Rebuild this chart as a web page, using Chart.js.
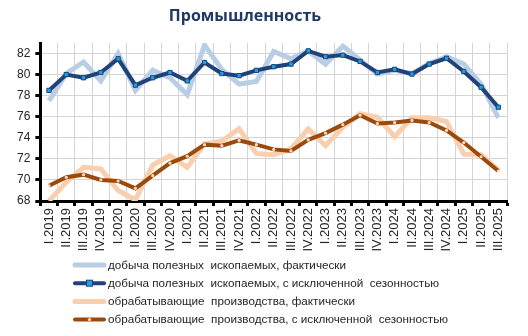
<!DOCTYPE html>
<html lang="ru">
<head>
<meta charset="utf-8">
<title>Промышленность</title>
<script src="https://cdn.jsdelivr.net/npm/chart.js@4/dist/chart.umd.min.js"></script>
<style>
  html, body { margin: 0; padding: 0; background: #fff; }
  #wrap { position: relative; width: 528px; height: 336px; }
</style>
</head>
<body>
<div id="wrap"><canvas id="industryChart" width="528" height="336"></canvas></div>
<script>
const quarters = [
  'I.2019', 'II.2019', 'III.2019', 'IV.2019',
  'I.2020', 'II.2020', 'III.2020', 'IV.2020',
  'I.2021', 'II.2021', 'III.2021', 'IV.2021',
  'I.2022', 'II.2022', 'III.2022', 'IV.2022',
  'I.2023', 'II.2023', 'III.2023', 'IV.2023',
  'I.2024', 'II.2024', 'III.2024', 'IV.2024',
  'I.2025', 'II.2025', 'III.2025',
];

const miningActual = [
  77.5, 80.1, 81.2, 79.4, 82.0, 78.5, 80.4, 79.7, 78.1, 82.8, 80.5, 79.1, 79.35,
  82.2, 81.5, 82.25, 81.0, 82.7, 81.4, 80.05, 80.4, 80.1, 81.05, 81.7, 81.0, 79.1, 75.9,
];
const miningSA = [
  78.5, 80.0, 79.7, 80.2, 81.5, 79.0, 79.7, 80.2, 79.4, 81.15, 80.1, 79.9, 80.4,
  80.75, 81.0, 82.25, 81.7, 81.85, 81.25, 80.2, 80.5, 80.05, 81.0, 81.55, 80.3, 78.8, 76.9,
];
const manufActual = [
  68.0, 69.8, 71.2, 71.05, 69.0, 68.1, 71.4, 72.3, 71.2, 73.4, 73.7, 74.85, 72.5,
  72.4, 72.95, 74.85, 73.25, 75.0, 76.3, 75.95, 74.1, 75.9, 75.9, 75.55, 72.45, 72.4, 70.9,
];
const manufSA = [
  69.45, 70.25, 70.5, 70.0, 69.9, 69.2, 70.4, 71.6, 72.25, 73.35, 73.25, 73.75, 73.35,
  72.9, 72.75, 73.8, 74.45, 75.25, 76.15, 75.35, 75.45, 75.65, 75.45, 74.7, 73.55, 72.2, 70.85,
];

const yTicks = [68, 70, 72, 74, 76, 78, 80, 82];

const seriesNames = [
  'добыча полезных  ископаемых, фактически',
  'добыча полезных  ископаемых, с исключенной  сезонностью',
  'обрабатывающие  производства, фактически',
  'обрабатывающие  производства, с исключенной  сезонностью',
];

const FONT = "'Liberation Sans', Arial, sans-serif";

// title and legend are painted straight onto the canvas
const decorPlugin = {
  id: 'decor',
  afterDraw(chart) {
    const ctx = chart.ctx;
    ctx.save();
    ctx.fillStyle = '#1f3864';
    ctx.font = "bold 16px 'Open Sans', sans-serif";
    ctx.textAlign = 'center';
    ctx.textBaseline = 'middle';
    ctx.fillText('Промышленность', 245, 16);

    ctx.font = '11.7px ' + FONT;
    ctx.textAlign = 'left';
    chart.data.datasets.forEach((ds, i) => {
      const y = 265 + i * 18.2;
      ctx.strokeStyle = ds.borderColor;
      ctx.lineWidth = ds.borderWidth;
      ctx.lineCap = 'round';
      ctx.beginPath();
      ctx.moveTo(75, y);
      ctx.lineTo(104, y);
      ctx.stroke();
      if (ds.pointRadius > 0) {
        ctx.fillStyle = ds.pointBackgroundColor;
        ctx.strokeStyle = ds.pointBorderColor;
        ctx.lineWidth = 1;
        if (ds.pointStyle === 'rect') {
          const r = ds.pointRadius;
          ctx.fillRect(89.5 - r, y - r, r * 2, r * 2);
          ctx.strokeRect(89.5 - r, y - r, r * 2, r * 2);
        } else {
          ctx.beginPath();
          ctx.arc(89.5, y, ds.pointRadius, 0, Math.PI * 2);
          ctx.fill();
        }
      }
      ctx.fillStyle = '#262626';
      ctx.fillText(ds.label, 108, y + 0.5);
    });
    ctx.restore();
  },
};

new Chart(document.getElementById('industryChart').getContext('2d'), {
  type: 'line',
  data: {
    labels: quarters,
    datasets: [
      {
        label: seriesNames[0], data: miningActual,
        borderColor: '#b9cde5', borderWidth: 5, pointRadius: 0,
        borderJoinStyle: 'miter', tension: 0, order: 4,
      },
      {
        label: seriesNames[1], data: miningSA,
        borderColor: '#1f4378', borderWidth: 4,
        pointStyle: 'rect', pointRadius: 3, pointBorderWidth: 1,
        pointBackgroundColor: '#1ea0e0', pointBorderColor: '#1f4378',
        tension: 0, order: 2,
      },
      {
        label: seriesNames[2], data: manufActual,
        borderColor: '#f9cfae', borderWidth: 5, pointRadius: 0,
        borderJoinStyle: 'miter', tension: 0, order: 3,
      },
      {
        label: seriesNames[3], data: manufSA,
        borderColor: '#9c4a0c', borderWidth: 4,
        pointStyle: 'circle', pointRadius: 1.6, pointBorderWidth: 0,
        pointBackgroundColor: '#f7dcc6', pointBorderColor: '#f7dcc6',
        tension: 0, order: 1,
      },
    ],
  },
  options: {
    responsive: false,
    animation: false,
    events: [],
    layout: { padding: { top: 43, left: 12, right: 21, bottom: 0 } },
    plugins: {
      legend: { display: false },
      title: { display: false },
      tooltip: { enabled: false },
    },
    scales: {
      x: {
        offset: true,
        grid: { offset: true, color: '#d4d4d4', lineWidth: 1, tickColor: '#000', tickWidth: 3, tickLength: 5 },
        border: { color: '#000', width: 3 },
        ticks: {
          autoSkip: false, maxRotation: 90, minRotation: 90, padding: 2,
          color: '#262626', font: { family: FONT, size: 13 },
        },
        afterFit(scale) { scale.height = 135; },
      },
      y: {
        min: 68, max: 83,
        grid: { color: '#d4d4d4', lineWidth: 1, tickColor: '#000', tickWidth: 3, tickLength: 5 },
        border: { color: '#000', width: 3 },
        ticks: {
          stepSize: 2, padding: 5,
          color: '#262626', font: { family: FONT, size: 12 },
        },
        afterBuildTicks(scale) {
          scale.ticks = yTicks.map(v => ({ value: v }));
        },
      },
    },
  },
  plugins: [decorPlugin],
});
</script>
</body>
</html>
